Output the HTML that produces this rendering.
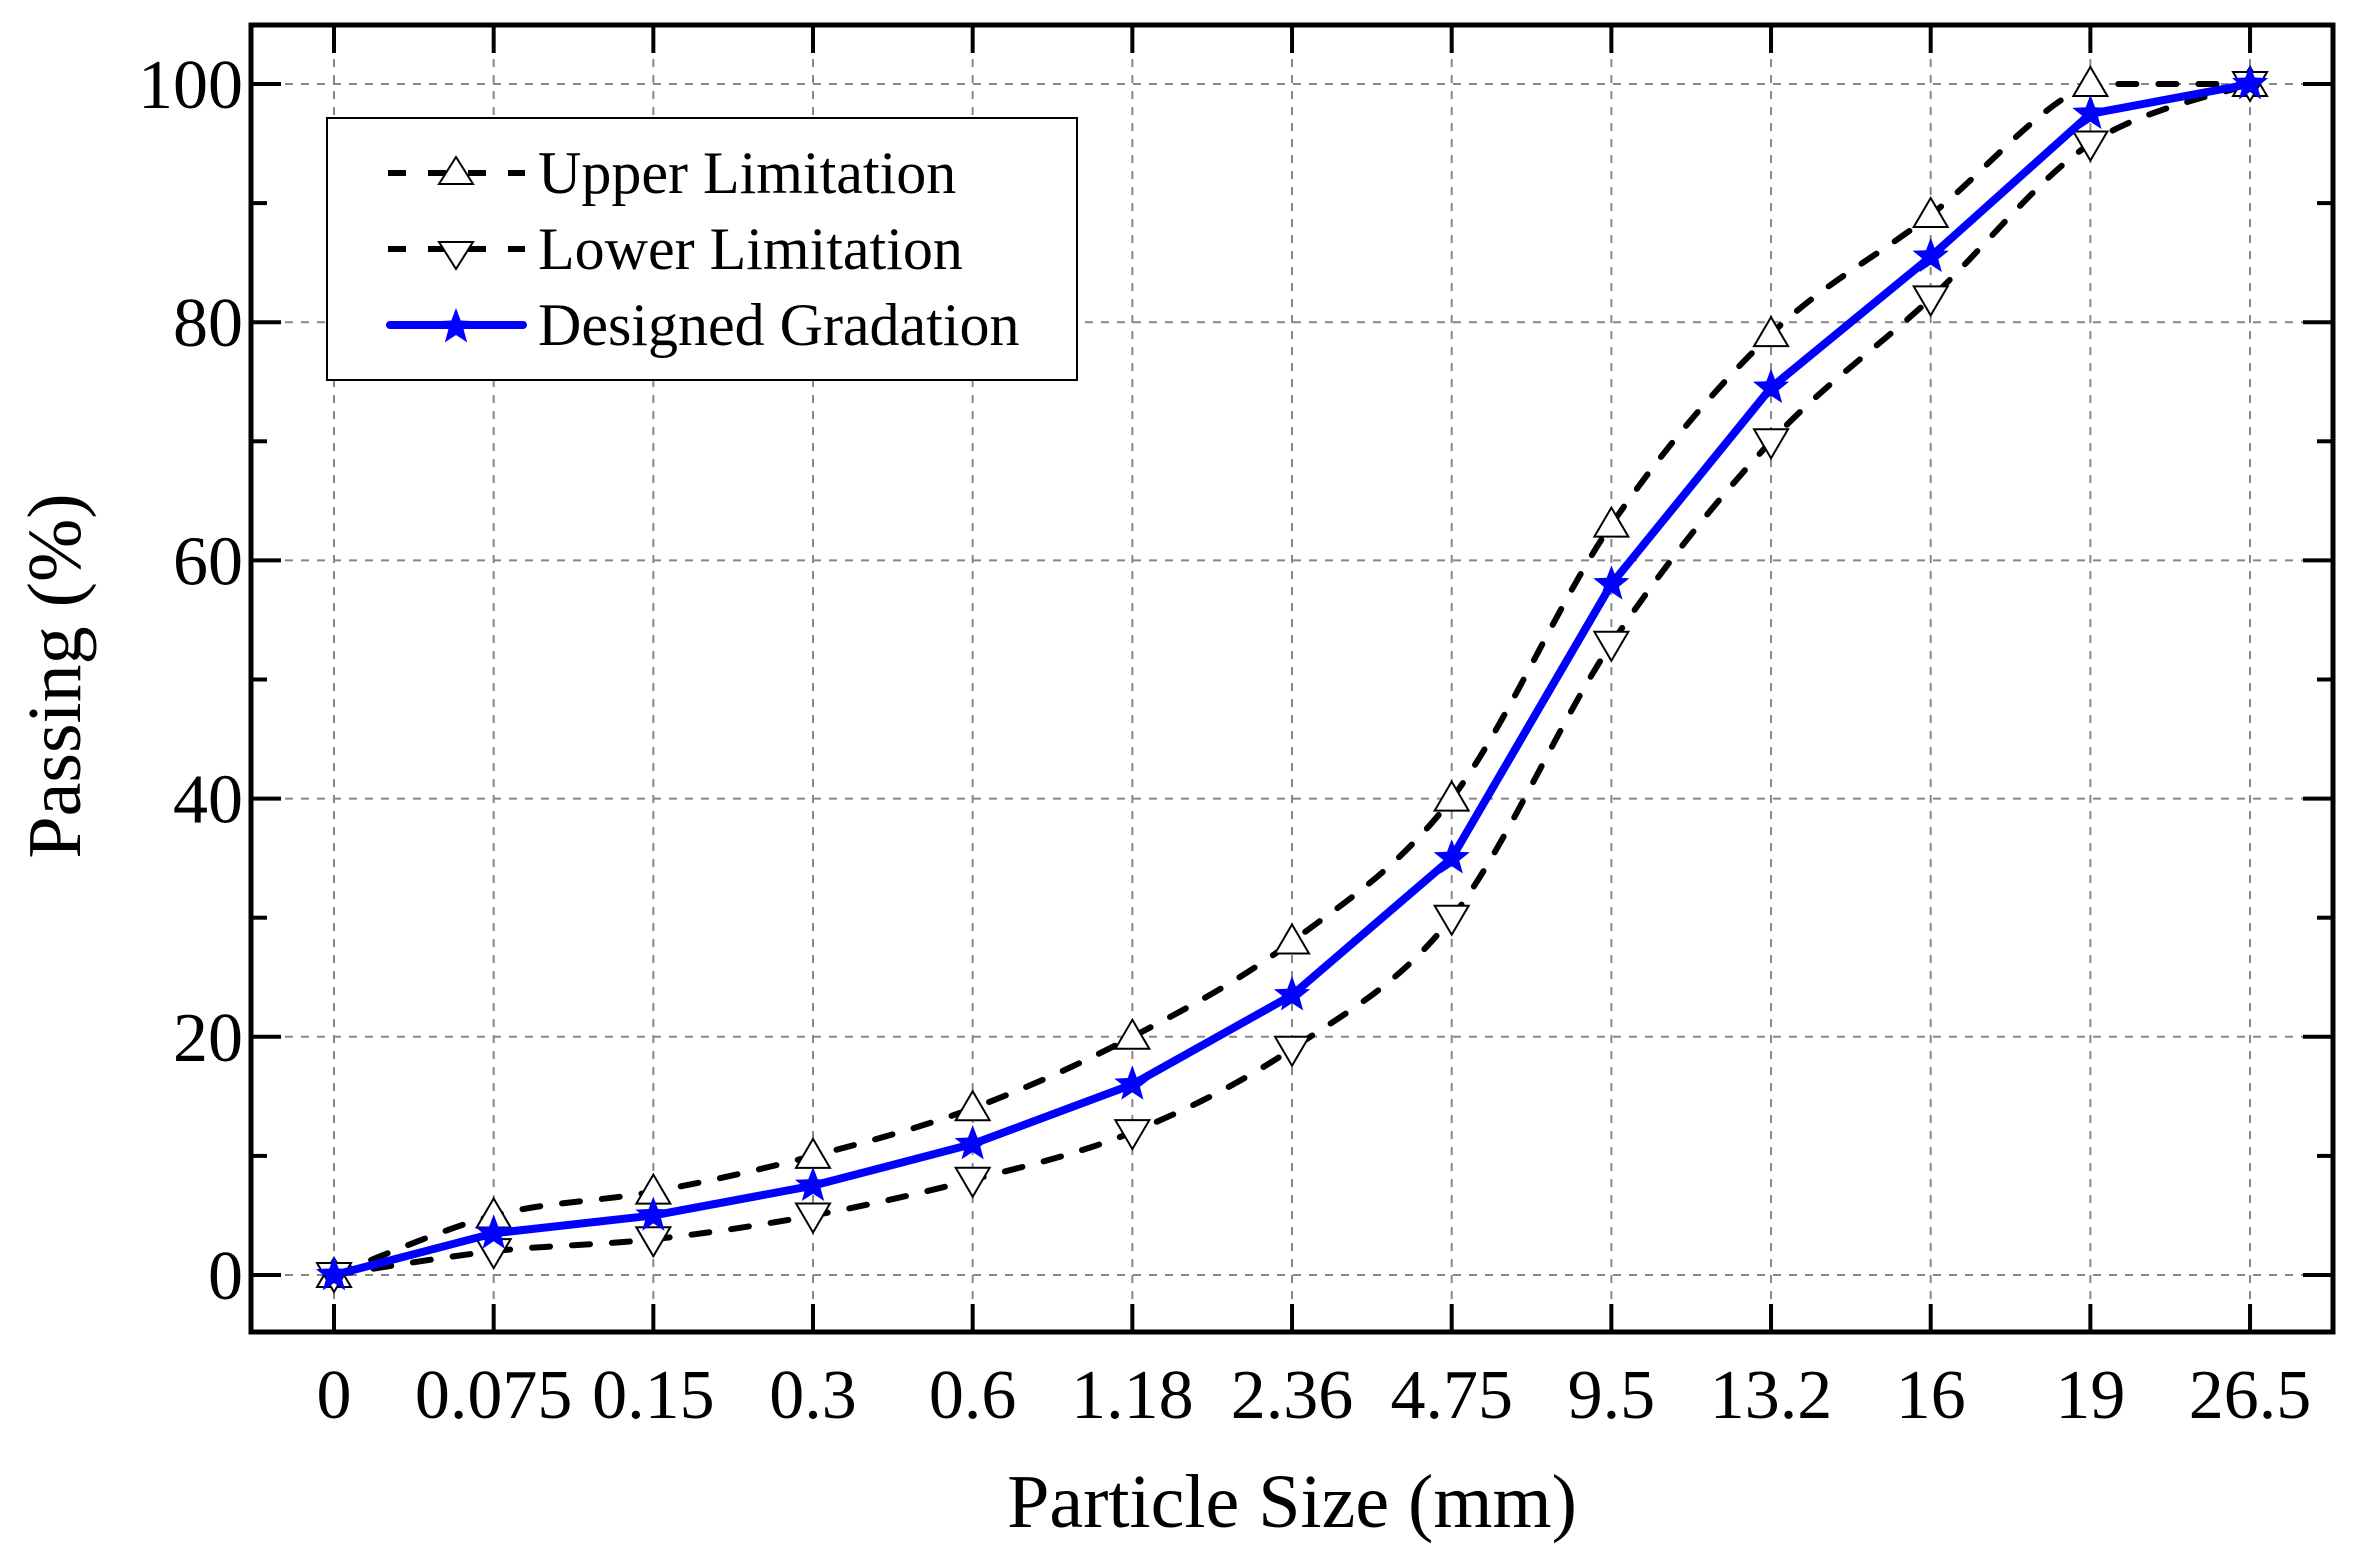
<!DOCTYPE html>
<html><head><meta charset="utf-8"><style>
html,body{margin:0;padding:0;background:#fff;}
svg{display:block;}
text{font-family:"Liberation Serif",serif;fill:#000;}
</style></head><body>
<svg id="s" width="2357" height="1550" viewBox="0 0 2357 1550" xmlns="http://www.w3.org/2000/svg">
<rect width="2357" height="1550" fill="#fff"/>
<g id="grid" stroke="#888" stroke-width="2" stroke-dasharray="8,8" fill="none"></g>
<g id="ticks" stroke="#000" stroke-width="4"></g>
<g id="series"></g>
<rect x="251" y="25" width="2082" height="1307" fill="none" stroke="#000" stroke-width="5"/>
<g id="labels" font-size="70"></g>
<text x="1292" y="1527" font-size="76" text-anchor="middle">Particle Size (mm)</text>
<text transform="translate(80,676) rotate(-90)" font-size="76" text-anchor="middle">Passing (%)</text>
<g id="legend">
<rect x="327" y="118" width="750" height="262" fill="#fff" stroke="#000" stroke-width="2"/>
<line x1="388" y1="173" x2="525" y2="173" stroke="#000" stroke-width="6" stroke-dasharray="18,22"/>
<polygon points="456,157 473,184 439,184" fill="#fff" stroke="#000" stroke-width="2"/>
<text x="538" y="193" font-size="60">Upper Limitation</text>
<line x1="388" y1="249" x2="525" y2="249" stroke="#000" stroke-width="6" stroke-dasharray="18,22"/>
<polygon points="456,269 473,242 439,242" fill="#fff" stroke="#000" stroke-width="2"/>
<text x="538" y="269" font-size="60">Lower Limitation</text>
<line x1="390" y1="325" x2="523" y2="325" stroke="#0000ff" stroke-width="8" stroke-linecap="round"/>
<polygon id="legstar" fill="#0000ff"/>
<text x="538" y="345" font-size="60">Designed Gradation</text>
</g>
</svg>
<script>
var NS="http://www.w3.org/2000/svg";
function el(p,t,a){var e=document.createElementNS(NS,t);for(var k in a)e.setAttribute(k,a[k]);p.appendChild(e);return e;}
var X=function(i){return 334+i*159.67;}, Y=function(v){return 1275-v*11.91;};
var cats=["0","0.075","0.15","0.3","0.6","1.18","2.36","4.75","9.5","13.2","16","19","26.5"];
var up=[0,5,7,10,14,20,28,40,63,79,89,100,100];
var lo=[0,2,3,5,8,12,19,30,53,70,82,95,100];
var de=[0,3.5,5,7.5,11,16,23.5,35,58,74.5,85.5,97.5,100];
var g=document.getElementById("grid"),t=document.getElementById("ticks"),L=document.getElementById("labels");
for(var v=0;v<=100;v+=20){var y=Y(v);el(g,"line",{x1:253,y1:y,x2:2331,y2:y});
 el(t,"line",{x1:251,y1:y,x2:281,y2:y});el(t,"line",{x1:2333,y1:y,x2:2303,y2:y});
 var tx=el(L,"text",{x:243,y:y+24,"text-anchor":"end"});tx.textContent=v;}
for(var v=10;v<100;v+=20){var y=Y(v);el(t,"line",{x1:251,y1:y,x2:267,y2:y});el(t,"line",{x1:2333,y1:y,x2:2317,y2:y});}
for(var i=0;i<13;i++){var x=X(i);el(g,"line",{x1:x,y1:27,x2:x,y2:1330});
 el(t,"line",{x1:x,y1:1332,x2:x,y2:1304});el(t,"line",{x1:x,y1:25,x2:x,y2:53});
 var tx=el(L,"text",{x:x,y:1418,"text-anchor":"middle"});tx.textContent=cats[i];}
function cl(v,a,b){var lo=Math.min(a,b),hi=Math.max(a,b);return Math.max(lo,Math.min(hi,v));}
function spline(d){var p=d.map(function(v,i){return [X(i),Y(v)];});var s="M"+p[0][0]+","+p[0][1];
 for(var i=0;i<p.length-1;i++){var p0=p[Math.max(i-1,0)],p1=p[i],p2=p[i+1],p3=p[Math.min(i+2,p.length-1)];
  var c1=[p1[0]+(p2[0]-p0[0])/6,cl(p1[1]+(p2[1]-p0[1])/6,p1[1],p2[1])],c2=[p2[0]-(p3[0]-p1[0])/6,cl(p2[1]-(p3[1]-p1[1])/6,p1[1],p2[1])];
  s+=" C"+c1+" "+c2+" "+p2;}return s;}
var S=document.getElementById("series");
el(S,"path",{d:spline(up),fill:"none",stroke:"#000","stroke-width":6,"stroke-dasharray":"18,22","stroke-linecap":"round"});
el(S,"path",{d:spline(lo),fill:"none",stroke:"#000","stroke-width":6,"stroke-dasharray":"18,22","stroke-linecap":"round"});
for(var i=0;i<13;i++){var x=X(i),y=Y(up[i]);
 el(S,"polygon",{points:x+","+(y-17)+" "+(x+17)+","+(y+12)+" "+(x-17)+","+(y+12),fill:"#fff",stroke:"#000","stroke-width":2});
 y=Y(lo[i]);el(S,"polygon",{points:x+","+(y+17)+" "+(x+17)+","+(y-12)+" "+(x-17)+","+(y-12),fill:"#fff",stroke:"#000","stroke-width":2});}
el(S,"polyline",{points:de.map(function(v,i){return X(i)+","+Y(v);}).join(" "),fill:"none",stroke:"#0000ff","stroke-width":8,"stroke-linejoin":"round"});
function star(cx,cy,R){var r=R*0.42,s=[];for(var k=0;k<10;k++){var a=-Math.PI/2+k*Math.PI/5,rr=k%2?r:R;s.push((cx+rr*Math.cos(a)).toFixed(1)+","+(cy+rr*Math.sin(a)).toFixed(1));}return s.join(" ");}
for(var i=0;i<13;i++)el(S,"polygon",{points:star(X(i),Y(de[i]),19),fill:"#0000ff"});
document.getElementById("legstar").setAttribute("points",star(456,327,19));
</script>
</body></html>
